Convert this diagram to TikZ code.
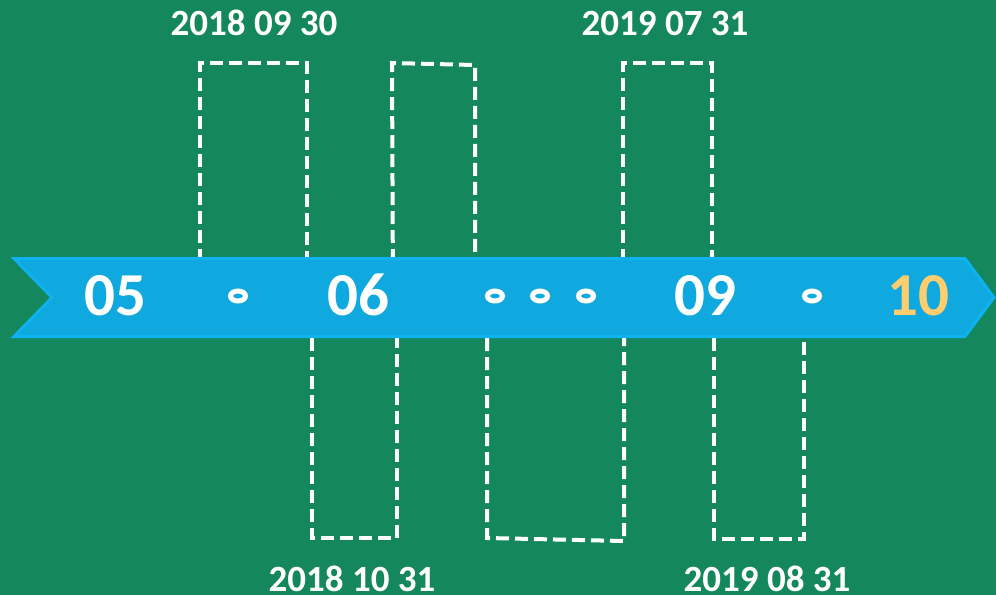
\documentclass[tikz,border=0pt]{standalone}
\usepackage{fontspec}
\setmainfont{Carlito}
\definecolor{bggreen}{RGB}{20,135,92}
\definecolor{bandblue}{RGB}{16,169,223}
\definecolor{bandedge}{RGB}{14,178,238}
\definecolor{gold}{RGB}{254,206,110}
\tikzset{
  dashbox/.style={draw=white,line width=4pt,dash pattern=on 13pt off 6pt},
  month/.style={anchor=base,text=white,font=\fontsize{61}{61}\selectfont\bfseries,inner sep=0pt},
  datelbl/.style={anchor=base,text=white,font=\fontsize{37}{37}\selectfont\bfseries,inner sep=0pt},
  ring/.style={draw=white,line width=5pt}
}
\begin{document}
\begin{tikzpicture}[x=1pt,y=-1pt]
  \useasboundingbox[fill=bggreen] (0,0) rectangle (996,595);
  % dashed frames, upper row
  \draw[dashbox] (200,300) -- (200,63) -- (307,63) -- (307,300);
  \draw[dashbox] (393,300) -- (392,63) -- (475,65) -- (475,300);
  \draw[dashbox] (623,300) -- (623,63) -- (712,63) -- (712,300);
  % dashed frames, lower row
  \draw[dashbox] (312,300) -- (312,538) -- (397,538) -- (397,300);
  \draw[dashbox] (487,300) -- (487,538) -- (624,541) -- (624,300);
  \draw[dashbox] (714,300) -- (714,539) -- (804,539) -- (804,300);
  % band
  \draw[fill=bandblue,draw=bandedge,line width=3pt]
    (14,258.5) -- (965,258.5) -- (994,297.5) -- (965,336.5) -- (14,336.5) -- (52,297.5) -- cycle;
  \node[month] (m05) at (115,315) {05};
  \node[month] (m06) at (358,315) {06};
  \node[month] (m09) at (705,315) {09};
  \node[month,text=gold] (m10) at (918,315) {10};
  \foreach \x in {238,495,540,586,812}
    \draw[ring] (\x,296) ellipse (7.5pt and 5pt);
  \node[datelbl] (d1) at (254,35) {2018 09 30};
  \node[datelbl] (d2) at (665,35) {2019 07 31};
  \node[datelbl] (d3) at (352,591) {2018 10 31};
  \node[datelbl] (d4) at (767,591) {2019 08 31};
\end{tikzpicture}
\end{document}
